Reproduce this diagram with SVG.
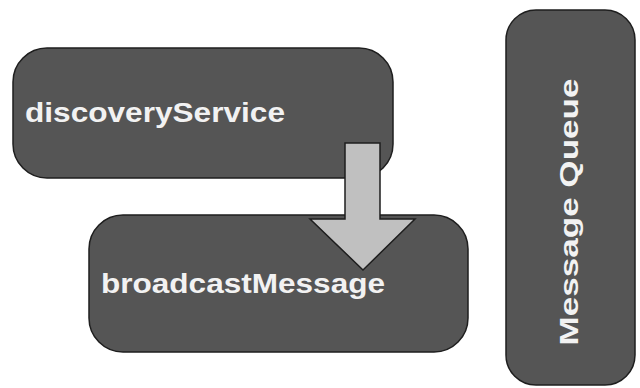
<svg xmlns="http://www.w3.org/2000/svg" width="640" height="388" viewBox="0 0 640 388">
  <style>
    .box { fill: #555555; stroke: #1e1e1e; stroke-width: 1.5; }
    .label { fill: #f2f2f2; font-family: "Liberation Sans", Arial, Helvetica, sans-serif; font-weight: bold; }
    .flow { fill: #c0c0c0; stroke: #1e1e1e; stroke-width: 1.5; stroke-linejoin: miter; }
  </style>
  <rect width="640" height="388" fill="#ffffff"/>

  <g id="discoveryService">
    <rect class="box" x="13" y="48" width="380" height="130" rx="34" ry="34"/>
    <text class="label" x="25" y="122" font-size="28" textLength="260" lengthAdjust="spacingAndGlyphs">discoveryService</text>
  </g>

  <g id="broadcastMessage">
    <rect class="box" x="89" y="215" width="379" height="137" rx="34" ry="34"/>
    <text class="label" x="101" y="293" font-size="28" textLength="284" lengthAdjust="spacingAndGlyphs">broadcastMessage</text>
  </g>

  <g id="messageQueue">
    <rect class="box" x="506" y="10" width="129" height="375" rx="30" ry="30"/>
    <text class="label" transform="translate(578 212) rotate(-90)" x="0" y="0" font-size="26" text-anchor="middle" textLength="267" lengthAdjust="spacingAndGlyphs">Message Queue</text>
  </g>

  <g id="connectors">
    <polygon class="flow" points="345,143 380,143 380,219 415,219 363,270 310,219 345,219"/>
  </g>
</svg>
